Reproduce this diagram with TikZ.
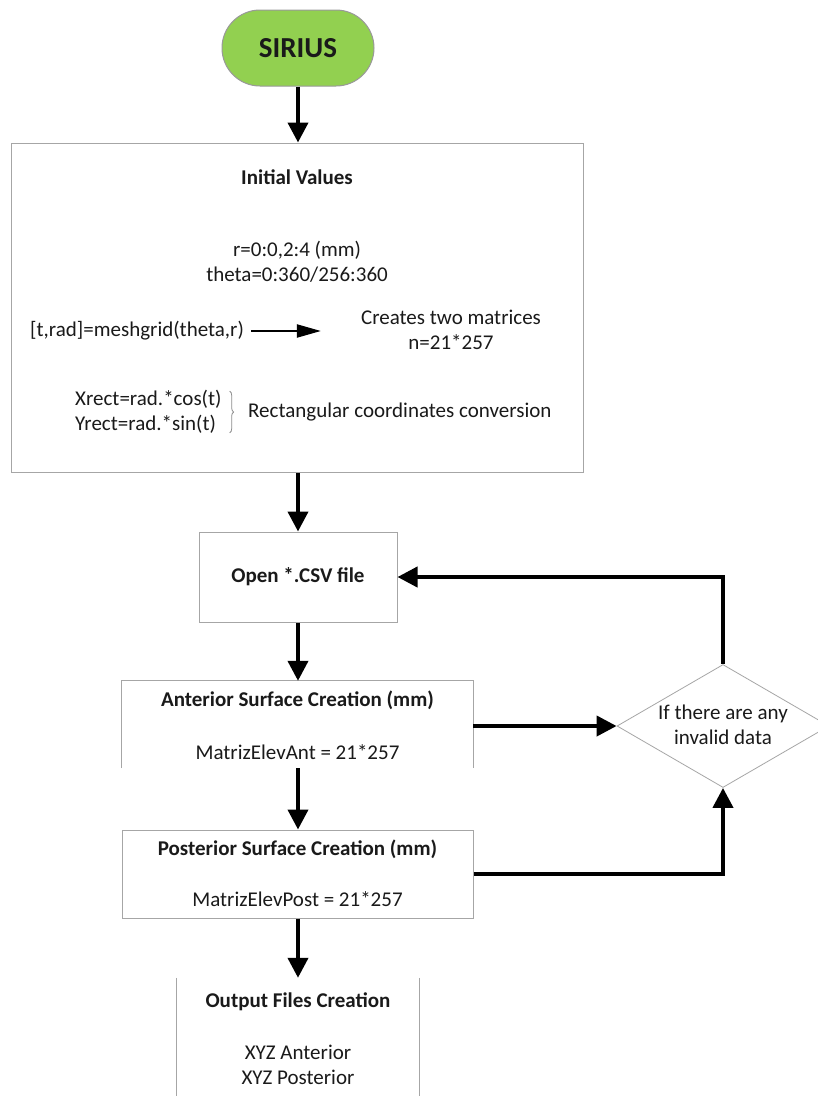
\documentclass[tikz,border=0pt]{standalone}
\usepackage{fontspec}
\setmainfont{Carlito}
\usetikzlibrary{arrows.meta,shapes.geometric,decorations.pathreplacing}
\definecolor{boxgrey}{HTML}{A6A6A6}
\definecolor{startgreen}{HTML}{92D050}
\definecolor{txtcol}{HTML}{1A1A1A}
\begin{document}
\begin{tikzpicture}[x=1pt,y=-1pt,
  frame/.style={draw=boxgrey,line width=1pt,inner sep=0pt,rectangle},
  openframe/.style={draw=none,inner sep=0pt,rectangle},
  edge/.style={draw=boxgrey,line width=1pt},
  flow/.style={line width=4pt,-{Triangle[length=20pt,width=20pt]}},
  smallarrow/.style={line width=2pt,-{Triangle[length=24pt,width=13pt]}},
  txt/.style={font=\fontsize{21}{25}\selectfont,inner sep=0pt,align=center,text=txtcol},
  btxt/.style={txt,font=\fontsize{21}{25}\selectfont\bfseries},
  startnode/.style={draw=gray!80,line width=1pt,fill=startgreen,rounded corners=38pt,
    minimum width=152pt,minimum height=76pt,inner sep=0pt,
    font=\fontsize{29}{34}\selectfont\bfseries,text=txtcol},
  decision/.style={diamond,draw=boxgrey,line width=0.8pt,minimum width=212pt,minimum height=123pt,inner sep=0pt}
]
\useasboundingbox (0,0) rectangle (818,1096);
\clip (0,0) rectangle (818,1096);
\fill[white] (0,0) rectangle (818,1096);

% start
\node[startnode] (sirius) at (298,48) {SIRIUS};

% initial values box
\node[frame,minimum width=572pt,minimum height=329pt] (init) at (297,307.5) {};
\node[btxt] (inittitle) at (297,177) {Initial Values};
\node[txt] (rtheta) at (297,262) {r=0:0,2:4 (mm)\\theta=0:360/256:360};
\node[txt,anchor=west] (mesh) at (30,331) {[t,rad]=meshgrid(theta,r)};
\node[txt] (creates) at (451,329.5) {Creates two matrices\\n=21*257};
\node[txt,align=left,anchor=west] (xy) at (75,412) {Xrect=rad.*cos(t)\\Yrect=rad.*sin(t)};
\node[txt,anchor=west] (rect) at (248,412) {Rectangular coordinates conversion};
\draw[smallarrow,shorten <=7pt,shorten >=40pt] (mesh.east) -- (creates.west |- mesh.east);
\draw[decorate,decoration={brace,amplitude=4pt},draw=gray!90,line width=0.8pt]
  ([xshift=8pt,yshift=-1pt]xy.north east) -- ([xshift=8pt,yshift=1pt]xy.south east);

% open csv
\node[frame,minimum width=198pt,minimum height=90pt,btxt] (open) at (298,577) {Open *.CSV file};

% anterior (box open at the bottom)
\node[openframe,minimum width=351pt,minimum height=87pt] (ant) at (297.5,724.5) {};
\draw[edge] (ant.south west) -- (ant.north west) -- (ant.north east) -- (ant.south east);
\node[btxt] (anttitle) at (297.5,700) {Anterior Surface Creation (mm)};
\node[txt] (antmat) at (297.5,752) {MatrizElevAnt = 21*257};

% posterior
\node[frame,minimum width=351pt,minimum height=88pt] (post) at (297.5,874) {};
\node[btxt] (posttitle) at (297.5,849) {Posterior Surface Creation (mm)};
\node[txt] (postmat) at (297.5,899) {MatrizElevPost = 21*257};

% output (only the sides are visible)
\node[openframe,minimum width=242pt,minimum height=132pt] (out) at (298,1044) {};
\draw[edge] (out.north west) -- (out.south west);
\draw[edge] (out.north east) -- (out.south east);
\node[btxt] (outtitle) at (298,1002) {Output Files Creation};
\node[txt] (outfiles) at (298,1065) {XYZ Anterior\\XYZ Posterior};

% decision
\node[decision] (dia) at (723,726) {};
\node[txt] (diatext) at (723,725) {If there are any\\invalid data};

% connectors
\draw[flow] (sirius.south) -- (sirius.south |- init.north);
\draw[flow] (open.north |- init.south) -- (open.north);
\draw[flow] (open.south) -- (open.south |- ant.north);
\draw[flow] (ant.south -| open.south) -- (open.south |- post.north);
\draw[flow] (post.south -| open.south) -- (open.south |- out.north);
\draw[flow] (dia.west -| ant.east) -- (dia.west);
\draw[flow] (post.east) -| (dia.south);
\draw[flow] (dia.north) |- (open.east);
\end{tikzpicture}
\end{document}
